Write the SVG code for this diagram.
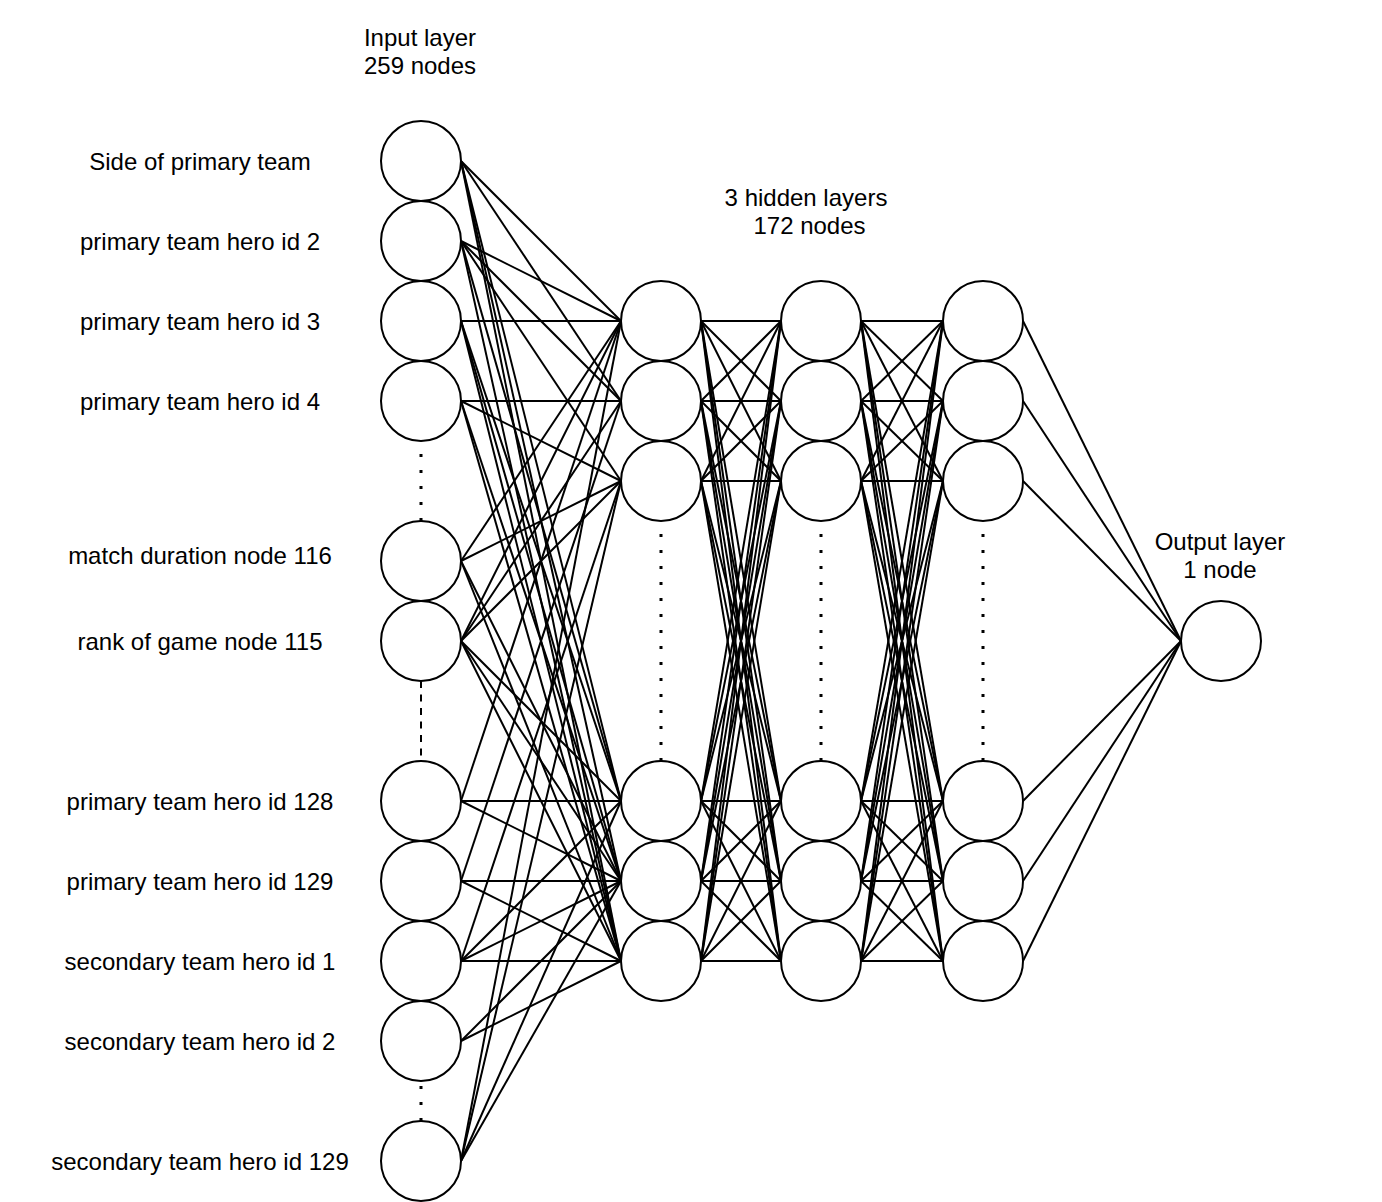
<svg xmlns="http://www.w3.org/2000/svg" width="1382" height="1202" viewBox="0 0 1382 1202">
<style>
.n{fill:#fff;stroke:#000;stroke-width:2}
.e{stroke:#000;stroke-width:2;fill:none}
.d{stroke:#000;stroke-width:3;stroke-dasharray:3 13;fill:none}
.ds{stroke:#000;stroke-width:2;stroke-dasharray:7 6.5;fill:none}
text{font-family:"Liberation Sans",Arial,Helvetica,sans-serif;font-size:24px;fill:#000;text-anchor:middle}
</style>
<rect width="1382" height="1202" fill="#fff"/>
<g id="titles">
<text x="420" y="46">Input layer</text>
<text x="420" y="74">259 nodes</text>
<text x="806" y="206">3 hidden layers</text>
<text x="809.5" y="234">172 nodes</text>
<text x="1220" y="549.5">Output layer</text>
<text x="1220" y="577.5">1 node</text>
</g>
<g id="connectors">
<g id="in-h1">
<line class="e" x1="461" y1="161" x2="621" y2="321"/><line class="e" x1="461" y1="161" x2="621" y2="401"/><line class="e" x1="461" y1="161" x2="621" y2="801"/><line class="e" x1="461" y1="161" x2="621" y2="881"/><line class="e" x1="461" y1="161" x2="621" y2="961"/>
<line class="e" x1="461" y1="241" x2="621" y2="321"/><line class="e" x1="461" y1="241" x2="621" y2="401"/><line class="e" x1="461" y1="241" x2="621" y2="481"/><line class="e" x1="461" y1="241" x2="621" y2="801"/><line class="e" x1="461" y1="241" x2="621" y2="961"/>
<line class="e" x1="461" y1="321" x2="621" y2="321"/><line class="e" x1="461" y1="321" x2="621" y2="801"/><line class="e" x1="461" y1="321" x2="621" y2="881"/><line class="e" x1="461" y1="321" x2="621" y2="961"/>
<line class="e" x1="461" y1="401" x2="621" y2="401"/><line class="e" x1="461" y1="401" x2="621" y2="481"/><line class="e" x1="461" y1="401" x2="621" y2="881"/><line class="e" x1="461" y1="401" x2="621" y2="961"/>
<line class="e" x1="461" y1="561" x2="621" y2="321"/><line class="e" x1="461" y1="561" x2="621" y2="481"/><line class="e" x1="461" y1="561" x2="621" y2="881"/><line class="e" x1="461" y1="561" x2="621" y2="961"/>
<line class="e" x1="461" y1="641" x2="621" y2="321"/><line class="e" x1="461" y1="641" x2="621" y2="401"/><line class="e" x1="461" y1="641" x2="621" y2="481"/><line class="e" x1="461" y1="641" x2="621" y2="801"/><line class="e" x1="461" y1="641" x2="621" y2="881"/><line class="e" x1="461" y1="641" x2="621" y2="961"/>
<line class="e" x1="461" y1="801" x2="621" y2="321"/><line class="e" x1="461" y1="801" x2="621" y2="801"/><line class="e" x1="461" y1="801" x2="621" y2="881"/>
<line class="e" x1="461" y1="881" x2="621" y2="401"/><line class="e" x1="461" y1="881" x2="621" y2="881"/><line class="e" x1="461" y1="881" x2="621" y2="961"/>
<line class="e" x1="461" y1="961" x2="621" y2="481"/><line class="e" x1="461" y1="961" x2="621" y2="801"/><line class="e" x1="461" y1="961" x2="621" y2="881"/><line class="e" x1="461" y1="961" x2="621" y2="961"/>
<line class="e" x1="461" y1="1041" x2="621" y2="881"/><line class="e" x1="461" y1="1041" x2="621" y2="961"/>
<line class="e" x1="461" y1="1161" x2="621" y2="321"/><line class="e" x1="461" y1="1161" x2="621" y2="481"/><line class="e" x1="461" y1="1161" x2="621" y2="801"/><line class="e" x1="461" y1="1161" x2="621" y2="881"/>
</g>
<g id="h1-h2">
<line class="e" x1="701" y1="321" x2="781" y2="321"/><line class="e" x1="701" y1="321" x2="781" y2="401"/><line class="e" x1="701" y1="321" x2="781" y2="481"/><line class="e" x1="701" y1="321" x2="781" y2="801"/><line class="e" x1="701" y1="321" x2="781" y2="881"/><line class="e" x1="701" y1="321" x2="781" y2="961"/>
<line class="e" x1="701" y1="401" x2="781" y2="321"/><line class="e" x1="701" y1="401" x2="781" y2="401"/><line class="e" x1="701" y1="401" x2="781" y2="481"/><line class="e" x1="701" y1="401" x2="781" y2="801"/><line class="e" x1="701" y1="401" x2="781" y2="881"/><line class="e" x1="701" y1="401" x2="781" y2="961"/>
<line class="e" x1="701" y1="481" x2="781" y2="321"/><line class="e" x1="701" y1="481" x2="781" y2="401"/><line class="e" x1="701" y1="481" x2="781" y2="481"/><line class="e" x1="701" y1="481" x2="781" y2="801"/><line class="e" x1="701" y1="481" x2="781" y2="881"/><line class="e" x1="701" y1="481" x2="781" y2="961"/>
<line class="e" x1="701" y1="801" x2="781" y2="321"/><line class="e" x1="701" y1="801" x2="781" y2="401"/><line class="e" x1="701" y1="801" x2="781" y2="481"/><line class="e" x1="701" y1="801" x2="781" y2="801"/><line class="e" x1="701" y1="801" x2="781" y2="881"/><line class="e" x1="701" y1="801" x2="781" y2="961"/>
<line class="e" x1="701" y1="881" x2="781" y2="321"/><line class="e" x1="701" y1="881" x2="781" y2="401"/><line class="e" x1="701" y1="881" x2="781" y2="481"/><line class="e" x1="701" y1="881" x2="781" y2="801"/><line class="e" x1="701" y1="881" x2="781" y2="881"/><line class="e" x1="701" y1="881" x2="781" y2="961"/>
<line class="e" x1="701" y1="961" x2="781" y2="321"/><line class="e" x1="701" y1="961" x2="781" y2="401"/><line class="e" x1="701" y1="961" x2="781" y2="481"/><line class="e" x1="701" y1="961" x2="781" y2="801"/><line class="e" x1="701" y1="961" x2="781" y2="881"/><line class="e" x1="701" y1="961" x2="781" y2="961"/>
</g>
<g id="h2-h3">
<line class="e" x1="861" y1="321" x2="943" y2="321"/><line class="e" x1="861" y1="321" x2="943" y2="401"/><line class="e" x1="861" y1="321" x2="943" y2="481"/><line class="e" x1="861" y1="321" x2="943" y2="801"/><line class="e" x1="861" y1="321" x2="943" y2="881"/><line class="e" x1="861" y1="321" x2="943" y2="961"/>
<line class="e" x1="861" y1="401" x2="943" y2="321"/><line class="e" x1="861" y1="401" x2="943" y2="401"/><line class="e" x1="861" y1="401" x2="943" y2="481"/><line class="e" x1="861" y1="401" x2="943" y2="801"/><line class="e" x1="861" y1="401" x2="943" y2="881"/><line class="e" x1="861" y1="401" x2="943" y2="961"/>
<line class="e" x1="861" y1="481" x2="943" y2="321"/><line class="e" x1="861" y1="481" x2="943" y2="401"/><line class="e" x1="861" y1="481" x2="943" y2="481"/><line class="e" x1="861" y1="481" x2="943" y2="801"/><line class="e" x1="861" y1="481" x2="943" y2="881"/><line class="e" x1="861" y1="481" x2="943" y2="961"/>
<line class="e" x1="861" y1="801" x2="943" y2="321"/><line class="e" x1="861" y1="801" x2="943" y2="401"/><line class="e" x1="861" y1="801" x2="943" y2="481"/><line class="e" x1="861" y1="801" x2="943" y2="801"/><line class="e" x1="861" y1="801" x2="943" y2="881"/><line class="e" x1="861" y1="801" x2="943" y2="961"/>
<line class="e" x1="861" y1="881" x2="943" y2="321"/><line class="e" x1="861" y1="881" x2="943" y2="401"/><line class="e" x1="861" y1="881" x2="943" y2="481"/><line class="e" x1="861" y1="881" x2="943" y2="801"/><line class="e" x1="861" y1="881" x2="943" y2="881"/><line class="e" x1="861" y1="881" x2="943" y2="961"/>
<line class="e" x1="861" y1="961" x2="943" y2="321"/><line class="e" x1="861" y1="961" x2="943" y2="401"/><line class="e" x1="861" y1="961" x2="943" y2="481"/><line class="e" x1="861" y1="961" x2="943" y2="801"/><line class="e" x1="861" y1="961" x2="943" y2="881"/><line class="e" x1="861" y1="961" x2="943" y2="961"/>
</g>
<g id="h3-out">
<line class="e" x1="1023" y1="321" x2="1181" y2="641"/><line class="e" x1="1023" y1="401" x2="1181" y2="641"/><line class="e" x1="1023" y1="481" x2="1181" y2="641"/><line class="e" x1="1023" y1="801" x2="1181" y2="641"/><line class="e" x1="1023" y1="881" x2="1181" y2="641"/><line class="e" x1="1023" y1="961" x2="1181" y2="641"/>
</g>
<g id="ellipsis">
<line class="d" x1="421" y1="521" x2="421" y2="441"/>
<line class="ds" x1="421" y1="681" x2="421" y2="761"/>
<line class="d" x1="421" y1="1121" x2="421" y2="1081"/>
<line class="d" x1="661" y1="761" x2="661" y2="521"/>
<line class="d" x1="821" y1="761" x2="821" y2="521"/>
<line class="d" x1="983" y1="761" x2="983" y2="521"/>
</g>
</g>
<g id="in-1"><circle class="n" cx="421" cy="161" r="40"/><text x="200" y="169.5">Side of primary team</text></g>
<g id="in-2"><circle class="n" cx="421" cy="241" r="40"/><text x="200" y="249.5">primary team hero id 2</text></g>
<g id="in-3"><circle class="n" cx="421" cy="321" r="40"/><text x="200" y="329.5">primary team hero id 3</text></g>
<g id="in-4"><circle class="n" cx="421" cy="401" r="40"/><text x="200" y="409.5">primary team hero id 4</text></g>
<g id="in-116"><circle class="n" cx="421" cy="561" r="40"/><text x="200" y="563.5">match duration node 116</text></g>
<g id="in-115"><circle class="n" cx="421" cy="641" r="40"/><text x="200" y="649.5">rank of game node 115</text></g>
<g id="in-128"><circle class="n" cx="421" cy="801" r="40"/><text x="200" y="809.5">primary team hero id 128</text></g>
<g id="in-129"><circle class="n" cx="421" cy="881" r="40"/><text x="200" y="889.5">primary team hero id 129</text></g>
<g id="in-s1"><circle class="n" cx="421" cy="961" r="40"/><text x="200" y="969.5">secondary team hero id 1</text></g>
<g id="in-s2"><circle class="n" cx="421" cy="1041" r="40"/><text x="200" y="1049.5">secondary team hero id 2</text></g>
<g id="in-s129"><circle class="n" cx="421" cy="1161" r="40"/><text x="200" y="1169.5">secondary team hero id 129</text></g>
<g id="h1-1"><circle class="n" cx="661" cy="321" r="40"/></g>
<g id="h1-2"><circle class="n" cx="661" cy="401" r="40"/></g>
<g id="h1-3"><circle class="n" cx="661" cy="481" r="40"/></g>
<g id="h1-4"><circle class="n" cx="661" cy="801" r="40"/></g>
<g id="h1-5"><circle class="n" cx="661" cy="881" r="40"/></g>
<g id="h1-6"><circle class="n" cx="661" cy="961" r="40"/></g>
<g id="h2-1"><circle class="n" cx="821" cy="321" r="40"/></g>
<g id="h2-2"><circle class="n" cx="821" cy="401" r="40"/></g>
<g id="h2-3"><circle class="n" cx="821" cy="481" r="40"/></g>
<g id="h2-4"><circle class="n" cx="821" cy="801" r="40"/></g>
<g id="h2-5"><circle class="n" cx="821" cy="881" r="40"/></g>
<g id="h2-6"><circle class="n" cx="821" cy="961" r="40"/></g>
<g id="h3-1"><circle class="n" cx="983" cy="321" r="40"/></g>
<g id="h3-2"><circle class="n" cx="983" cy="401" r="40"/></g>
<g id="h3-3"><circle class="n" cx="983" cy="481" r="40"/></g>
<g id="h3-4"><circle class="n" cx="983" cy="801" r="40"/></g>
<g id="h3-5"><circle class="n" cx="983" cy="881" r="40"/></g>
<g id="h3-6"><circle class="n" cx="983" cy="961" r="40"/></g>
<g id="out"><circle class="n" cx="1221" cy="641" r="40"/></g>
</svg>
